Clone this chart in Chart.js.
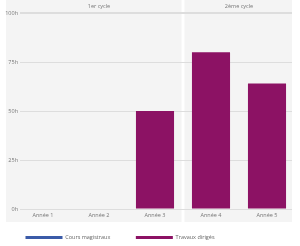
<!DOCTYPE html>
<html>
<head>
<meta charset="utf-8">
<script src="https://cdn.jsdelivr.net/npm/chart.js@4.4.1/dist/chart.umd.min.js"></script>
<style>
  html, body { margin: 0; padding: 0; background: #ffffff; }
  #wrap { width: 300px; height: 246px; }
</style>
</head>
<body>
<div id="wrap"><canvas id="c" width="300" height="246"></canvas></div>
<script>
// ---- data ----
const categories = ['Année 1', 'Année 2', 'Année 3', 'Année 4', 'Année 5'];
const coursMagistraux = [0, 0, 0, 0, 0];
const travauxDiriges = [0, 0, 50, 80, 64];
const yTickValues = [0, 25, 50, 75, 100];
const yTickSuffix = 'h';
const cycleLabels = ['1er cycle', '2ème cycle'];
const cycleFirst = [0, 3];
const cycleLast = [2, 4];
const seriesNames = ['Cours magistraux', 'Travaux dirigés'];

// ---- styles ----
const FONT = "'Open Sans', sans-serif";
const TEXT = '#777777';
const BG = '#f4f4f4';

Chart.defaults.font.family = FONT;
Chart.defaults.font.size = 5.5;
Chart.defaults.color = TEXT;

const cycleBackground = {
  id: 'cycleBackground',
  afterLayout(chart) {
    // place the legend row lower in its area (legend padding is shared by both directions)
    const lg = chart.legend;
    if (lg) lg.top = lg.bottom - 36.75;
  },
  beforeDraw(chart) {
    const { ctx, chartArea, scales: { x } } = chart;
    ctx.save();
    ctx.fillStyle = BG;
    const bottom = chartArea.bottom + 13;
    cycleFirst.forEach((f, i) => {
      const l = i === 0 ? chartArea.left - 14 : x.getPixelForValue(f - 0.5) + 1.5;
      const r = i === cycleFirst.length - 1 ? chartArea.right : x.getPixelForValue(cycleLast[i] + 0.5) - 1.5;
      ctx.fillRect(l, 0, r - l, bottom);
    });
    ctx.fillStyle = TEXT;
    ctx.font = '5.5px ' + FONT;
    ctx.textAlign = 'center';
    ctx.textBaseline = 'middle';
    cycleLabels.forEach((t, i) => {
      ctx.fillText(t, x.getPixelForValue((cycleFirst[i] + cycleLast[i]) / 2), 6.5);
    });
    ctx.restore();
  }
};

const toPoints = arr => arr.map((v, i) => ({ x: i, y: v }));

new Chart(document.getElementById('c'), {
  type: 'bar',
  data: {
    datasets: [
      { label: seriesNames[0], data: toPoints(coursMagistraux), backgroundColor: '#3b5ba8', borderWidth: 0, grouped: false },
      { label: seriesNames[1], data: toPoints(travauxDiriges), backgroundColor: '#8c1264', borderWidth: 0, grouped: false }
    ]
  },
  options: {
    responsive: false,
    animation: false,
    devicePixelRatio: 1,
    layout: { padding: { top: 13, right: 8, left: 0, bottom: 0 } },
    categoryPercentage: 1,
    barPercentage: 0.68,
    plugins: {
      tooltip: { enabled: false },
      legend: {
        position: 'bottom',
        align: 'start',
        maxHeight: 24,
        labels: { boxWidth: 37, boxHeight: 3, padding: 25.5, color: '#666666', font: { size: 5.5 } }
      }
    },
    scales: {
      x: {
        type: 'linear',
        offset: false,
        bounds: 'data',
        min: -23 / 56,
        max: 4 + 25 / 56,
        grid: { display: false, drawTicks: false },
        border: { display: false },
        ticks: {
          padding: 2.7,
          autoSkip: false,
          maxRotation: 0,
          color: TEXT,
          callback: v => categories[v]
        },
        afterBuildTicks: ax => { ax.ticks = categories.map((_, i) => ({ value: i })); },
        afterFit: s => { s.height = 13; }
      },
      y: {
        min: 0,
        max: 100,
        border: { display: false },
        grid: {
          drawTicks: false,
          color: '#dddddd',
          lineWidth: c => (c.tick && c.tick.value === 100 ? 2 : 1)
        },
        ticks: { padding: 2, color: TEXT, callback: v => v + yTickSuffix },
        afterBuildTicks: ax => { ax.ticks = yTickValues.map(v => ({ value: v })); },
        afterFit: s => { s.width = 20; }
      }
    }
  },
  plugins: [cycleBackground]
});
</script>
</body>
</html>
